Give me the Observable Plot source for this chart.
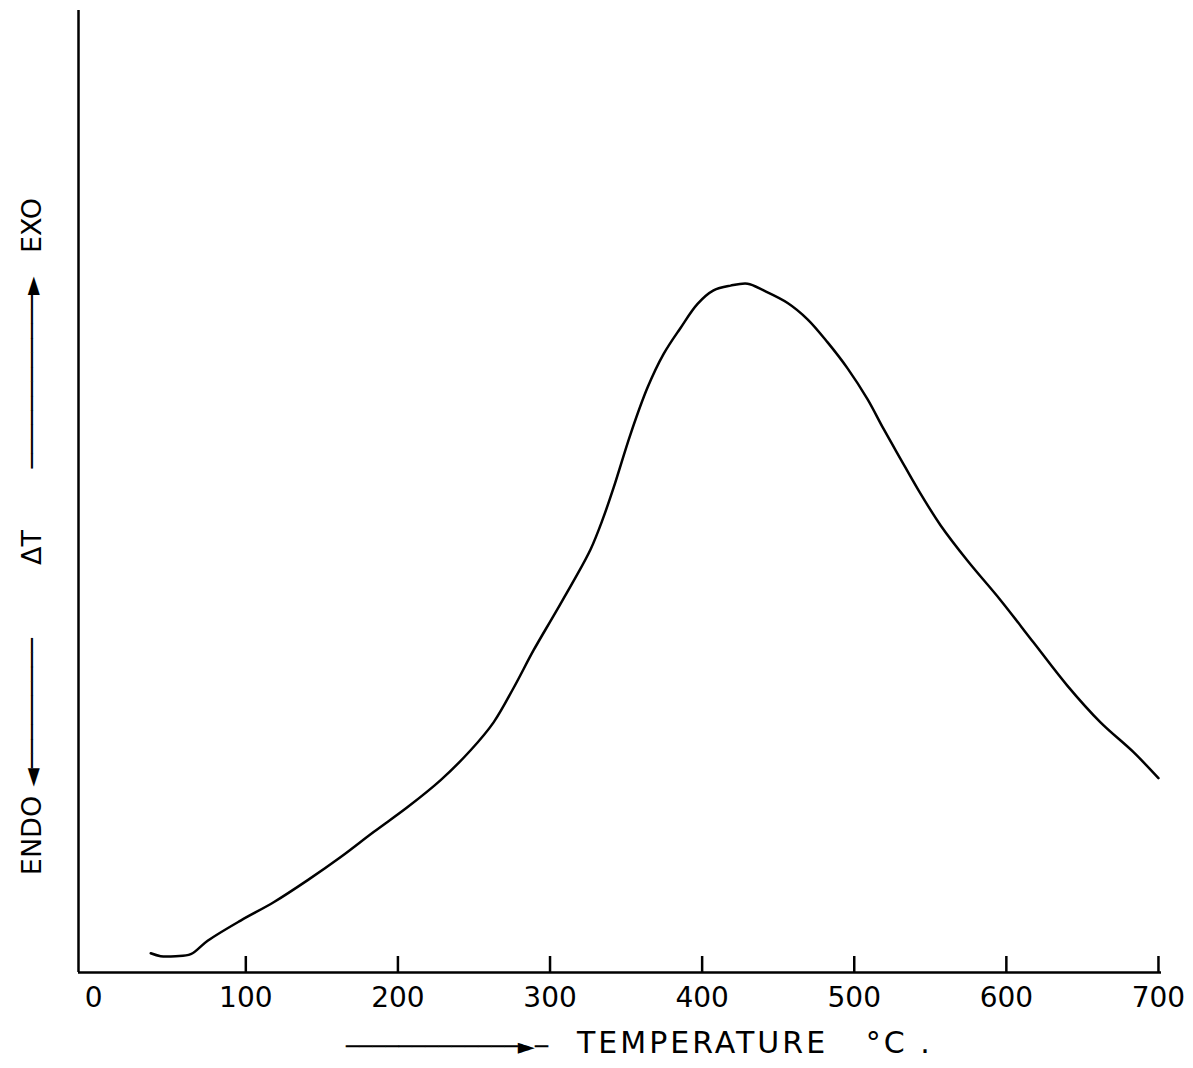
<!DOCTYPE html>
<html><head><meta charset="utf-8">
<script src="https://cdn.jsdelivr.net/npm/d3@7"></script>
<script src="https://cdn.jsdelivr.net/npm/@observablehq/plot@0.6"></script>
<style>body{margin:0;background:#fff} svg{display:block}</style>
</head><body><div id="chart"></div>
<script>
// Temperature (°C)
const temps = [37.5, 44.0, 53.9, 63.8, 74.9, 96.6, 118.3, 140.7, 162.4, 184.0, 206.4, 228.1, 247.8, 262.9, 276.1, 289.2, 302.4, 315.5, 326.7, 334.6, 341.8, 353.0, 364.1, 374.7, 385.8, 397.0, 407.5, 418.7, 429.9, 440.4, 456.2, 469.3, 482.5, 495.6, 508.7, 519.3, 530.4, 541.6, 556.7, 574.5, 596.2, 617.9, 640.2, 661.9, 683.6, 700.0];
// ΔT (arbitrary units, baseline = 0)
const deltaT = [0.20, 0.17, 0.17, 0.19, 0.33, 0.54, 0.73, 0.96, 1.20, 1.46, 1.72, 2.00, 2.31, 2.60, 2.96, 3.35, 3.71, 4.07, 4.40, 4.71, 5.04, 5.60, 6.08, 6.43, 6.70, 6.95, 7.09, 7.14, 7.16, 7.09, 6.96, 6.79, 6.55, 6.28, 5.96, 5.65, 5.34, 5.03, 4.65, 4.28, 3.87, 3.43, 2.98, 2.60, 2.29, 2.02];
const xLabelTicks = [0, 100, 200, 300, 400, 500, 600, 700];
const xMarkTicks = [100, 200, 300, 400, 500, 600, 700];
const xArrow = "─────────────►─";
const xLabel = "TEMPERATURE   °C .";
// y label pieces, bottom to top
const yPieces = ["ENDO", "◄─────────", "ΔT", "────────────►", "EXO"];
const yOffsets = [344, 221, 56, -119, -266];

const data = temps.map((t, i) => ({t, d: deltaT[i]}));
const yData = yPieces.map((s, i) => ({s, off: yOffsets[i]}));

const chart = Plot.plot({
  width: 1193, height: 1068,
  marginLeft: 78, marginRight: 32, marginTop: 10, marginBottom: 96,
  style: {fontFamily: "DejaVu Sans", background: "#fff", color: "#000"},
  x: {domain: [-10, 702]},
  y: {domain: [0, 10], axis: null},
  marks: [
    Plot.ruleX([-10], {strokeWidth: 2.5}),
    Plot.ruleY([0], {strokeWidth: 2.5}),
    Plot.axisX(xMarkTicks, {tickSize: -16, strokeWidth: 2.5, fill: "none", label: null}),
    Plot.axisX(xLabelTicks, {tickSize: 0, tickPadding: 15, fontSize: 28, label: null, tickFormat: d => String(d)}),
    Plot.line(data, {x: "t", y: "d", stroke: "#000", strokeWidth: 2.5, curve: "catmull-rom"}),
    Plot.text([xArrow], {frameAnchor: "bottom", textAnchor: "end", dx: -72, dy: 74, fontSize: 22, lineAnchor: "middle", text: d => d}),
    Plot.text([xLabel], {frameAnchor: "bottom", textAnchor: "start", dx: -43, dy: 71, fontSize: 30, lineAnchor: "middle", text: d => d}),
    ...yData.map(p => Plot.text([p.s], {frameAnchor: "left", textAnchor: "middle", dx: -46, dy: p.off, rotate: -90, fontSize: p.s.length > 4 ? 24 : 27, lineAnchor: "middle", text: d => d}))
  ]
});
d3.select(chart).selectAll("text").filter(function() { return this.textContent === xLabel; }).attr("letter-spacing", "3px");
document.getElementById("chart").append(chart);
</script>
</body></html>
